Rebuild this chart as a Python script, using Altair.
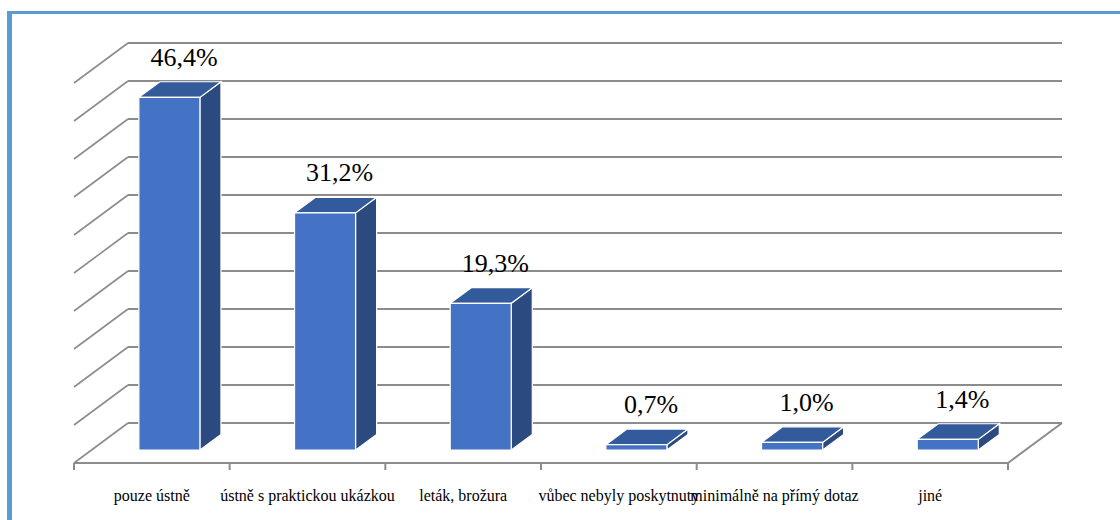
import altair as alt
import pandas as pd

# ---- data -------------------------------------------------------------
categories = [
    "pouze ústně",
    "ústně s praktickou ukázkou",
    "leták, brožura",
    "vůbec nebyly poskytnuty",
    "minimálně na přímý dotaz",
    "jiné",
]
shares = [46.4, 31.2, 19.3, 0.7, 1.0, 1.4]
grid_levels = [0, 5, 10, 15, 20, 25, 30, 35, 40, 45, 50]

# ---- geometry of the pseudo-3D box ------------------------------------
W, H = 1120, 520
ORIGIN_X, ORIGIN_Y = 74, 463      # front-left corner of the floor (px)
SLOT_PX = 155.67                  # width of one category slot (px)
PCT_PX = 7.6                      # pixels per percentage point
DEPTH_DX = 54 / SLOT_PX           # floor depth, x component (data units)
DEPTH_DY = 40 / PCT_PX            # floor depth, y component (data units)
BAR_W = 0.392                     # bar width in category slots
F_FRONT, F_BACK = 0.325, 0.715    # bar depth range as fraction of floor depth

SERIF = "Liberation Serif"

x_scale = alt.Scale(domain=[-ORIGIN_X / SLOT_PX, (W - ORIGIN_X) / SLOT_PX],
                    nice=False, zero=False)
y_scale = alt.Scale(domain=[(ORIGIN_Y - H) / PCT_PX, ORIGIN_Y / PCT_PX],
                    nice=False, zero=False)

n = len(categories)
ncat = float(n)

# back wall gridlines and the diagonals running to the front
wall = pd.DataFrame({
    "x": [DEPTH_DX] * len(grid_levels),
    "x2": [ncat + DEPTH_DX] * len(grid_levels),
    "y": [g + DEPTH_DY for g in grid_levels],
})
diag = pd.DataFrame({
    "x": [0.0] * len(grid_levels),
    "x2": [DEPTH_DX] * len(grid_levels),
    "y": [float(g) for g in grid_levels],
    "y2": [g + DEPTH_DY for g in grid_levels],
})
floor = pd.DataFrame({
    "x": [0.0, ncat],
    "x2": [ncat, ncat + DEPTH_DX],
    "y": [0.0, 0.0],
    "y2": [0.0, DEPTH_DY],
})
ticks = pd.DataFrame({
    "x": [float(i) for i in range(n + 1)],
    "y": [0.0] * (n + 1),
    "y2": [-7 / PCT_PX] * (n + 1),
})

# bar faces
bdx = (F_BACK - F_FRONT) * DEPTH_DX
bdy = (F_BACK - F_FRONT) * DEPTH_DY
y0 = F_FRONT * DEPTH_DY
front_rows, top_rows, side_rows, label_rows = [], [], [], []
for i, (cat, v) in enumerate(zip(categories, shares)):
    xl = i + 0.5 - BAR_W / 2 + F_FRONT * DEPTH_DX
    xr = xl + BAR_W
    yt = y0 + v
    front_rows.append({"x": xl, "x2": xr, "y": y0, "y2": yt})
    for px, lo, hi in [(xl, yt, yt), (xl + bdx, yt, yt + bdy),
                       (xr, yt, yt + bdy), (xr + bdx, yt + bdy, yt + bdy)]:
        top_rows.append({"bar": i, "x": px, "lo": lo, "hi": hi})
    for px, lo, hi in [(xr, y0, yt), (xr + bdx, y0 + bdy, yt + bdy)]:
        side_rows.append({"bar": i, "x": px, "lo": lo, "hi": hi})
    label_rows.append({
        "x": xl + 0.29,
        "y": yt + bdy,
        "label": f"{v:.1f}".replace(".", ",") + "%",
    })

front = pd.DataFrame(front_rows)
top = pd.DataFrame(top_rows)
side = pd.DataFrame(side_rows)
labels = pd.DataFrame(label_rows)
cats = pd.DataFrame({
    "x": [i + 0.5 for i in range(n)],
    "y": [-38 / PCT_PX] * n,
    "cat": categories,
})

GRID = "#8c8c8c"
X = lambda f: alt.X(f, scale=x_scale, axis=None)
X2 = lambda f: alt.X2(f)
Y = lambda f: alt.Y(f, scale=y_scale, axis=None, stack=None)

wall_layer = alt.Chart(wall).mark_rule(color=GRID, strokeWidth=2).encode(
    x=X("x:Q"), x2=X2("x2"), y=Y("y:Q"))
diag_layer = alt.Chart(diag).mark_rule(color=GRID, strokeWidth=1.6).encode(
    x=X("x:Q"), x2=X2("x2"), y=Y("y:Q"), y2=alt.Y2("y2"))
floor_layer = alt.Chart(floor).mark_rule(color=GRID, strokeWidth=2).encode(
    x=X("x:Q"), x2=X2("x2"), y=Y("y:Q"), y2=alt.Y2("y2"))
tick_layer = alt.Chart(ticks).mark_rule(color=GRID, strokeWidth=2).encode(
    x=X("x:Q"), y=Y("y:Q"), y2=alt.Y2("y2"))

side_layer = alt.Chart(side).mark_area(
    color="#2B4A80", stroke="white", strokeWidth=1.2, opacity=1
).encode(x=X("x:Q"), y=Y("lo:Q"), y2=alt.Y2("hi"), detail="bar:N")
top_layer = alt.Chart(top).mark_area(
    color="#335A9A", stroke="white", strokeWidth=1.2, opacity=1
).encode(x=X("x:Q"), y=Y("lo:Q"), y2=alt.Y2("hi"), detail="bar:N")
front_layer = alt.Chart(front).mark_rect(
    color="#4472C4", stroke="white", strokeWidth=1.2
).encode(x=X("x:Q"), x2=X2("x2"), y=Y("y:Q"), y2=alt.Y2("y2"))

label_layer = alt.Chart(labels).mark_text(
    font=SERIF, fontSize=26, color="black",
    align="center", baseline="alphabetic", dy=-16
).encode(x=X("x:Q"), y=Y("y:Q"), text="label:N")
cat_layer = alt.Chart(cats).mark_text(
    font=SERIF, fontSize=16, color="black",
    align="center", baseline="alphabetic"
).encode(x=X("x:Q"), y=Y("y:Q"), text="cat:N")

# outer frame (left and top edges)
frame_df = pd.DataFrame({"k": [0]})
frame_left = alt.Chart(frame_df).mark_rule(color="#5B9BD5", strokeWidth=5).encode(
    x=alt.value(9.5), y=alt.value(11), y2=alt.value(H))
frame_top = alt.Chart(frame_df).mark_rule(color="#5B9BD5", strokeWidth=3).encode(
    x=alt.value(7), x2=alt.value(W), y=alt.value(12.5))

chart = alt.layer(
    wall_layer, diag_layer, floor_layer, tick_layer,
    side_layer, top_layer, front_layer,
    label_layer, cat_layer, frame_left, frame_top,
).properties(
    width=W, height=H,
    autosize=alt.AutoSizeParams(type="none"),
    padding=0,
    background="white",
).configure_view(stroke=None)

chart.save("out.html", embed_options={"renderer": "svg", "actions": False})
